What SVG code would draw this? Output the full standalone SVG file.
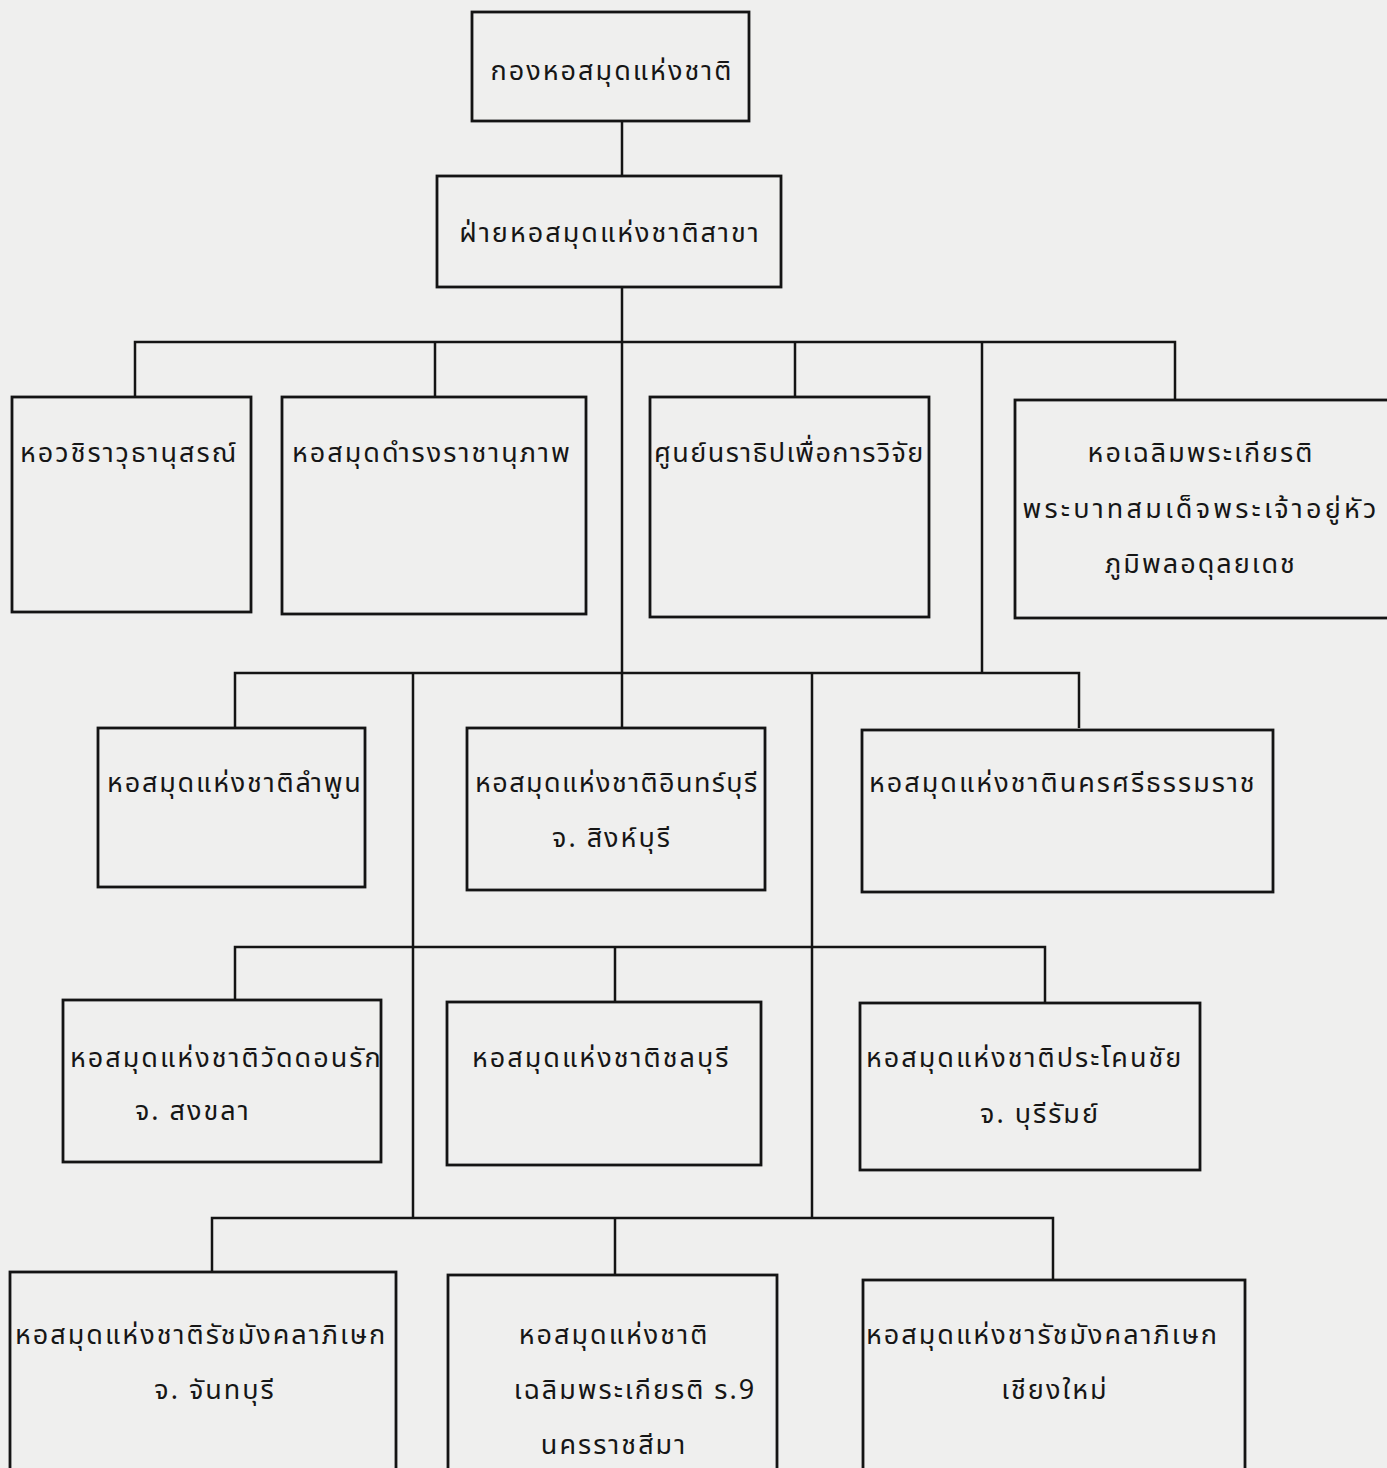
<svg xmlns="http://www.w3.org/2000/svg" width="1387" height="1468" viewBox="0 0 1387 1468">
<style>
  .bg { fill: #efefee; }
  .box { fill: none; stroke: #141414; stroke-width: 2.8; }
  .wire { fill: none; stroke: #141414; stroke-width: 2.5; }
  .t { font-family: "Noto Sans Thai", "Loma", "Garuda", "Norasi", "Noto Sans", "DejaVu Sans", sans-serif; font-size: 27px; fill: #161616; letter-spacing: 2px; }
  .m { text-anchor: middle; }
  .tight { letter-spacing: 1.4px; }
  .wide { letter-spacing: 3.2px; }
</style>
<rect class="bg" x="0" y="0" width="1387" height="1468"/>
<g id="connectors">
  <path class="wire" d="M622 121 V176 M622 287 V728"/>
  <path class="wire" d="M135 397 V342 H1175 V400 M435 342 V397 M795 342 V397 M982 342 V673"/>
  <path class="wire" d="M235 728 V673 H1079 V728 M413 673 V1218 M812 673 V1218"/>
  <path class="wire" d="M235 1000 V947 H1045 V1003 M615 947 V1002"/>
  <path class="wire" d="M212 1272 V1218 H1053 V1280 M615 1218 V1275"/>
</g>
<g id="n1"><rect class="box" x="472" y="12" width="277" height="109"/><text class="t m" x="612" y="80">กองหอสมุดแห่งชาติ</text></g>
<g id="n2"><rect class="box" x="437" y="176" width="344" height="111"/><text class="t m" x="610" y="242">ฝ่ายหอสมุดแห่งชาติสาขา</text></g>
<g id="n3"><rect class="box" x="12" y="397" width="239" height="215"/><text class="t" x="20" y="462">หอวชิราวุธานุสรณ์</text></g>
<g id="n4"><rect class="box" x="282" y="397" width="304" height="217"/><text class="t" x="292" y="462">หอสมุดดำรงราชานุภาพ</text></g>
<g id="n5"><rect class="box" x="650" y="397" width="279" height="220"/><text class="t tight" x="654" y="462">ศูนย์นราธิปเพื่อการวิจัย</text></g>
<g id="n6"><rect class="box" x="1015" y="400" width="380" height="218"/><text class="t m" x="1201" y="462">หอเฉลิมพระเกียรติ</text><text class="t m wide" x="1201" y="518">พระบาทสมเด็จพระเจ้าอยู่หัว</text><text class="t m" x="1201" y="573">ภูมิพลอดุลยเดช</text></g>
<g id="n7"><rect class="box" x="98" y="728" width="267" height="159"/><text class="t" x="107" y="792" style="letter-spacing:1.8px">หอสมุดแห่งชาติลำพูน</text></g>
<g id="n8"><rect class="box" x="467" y="728" width="298" height="162"/><text class="t tight" x="475" y="792">หอสมุดแห่งชาติอินทร์บุรี</text><text class="t m" x="612" y="847">จ. สิงห์บุรี</text></g>
<g id="n9"><rect class="box" x="862" y="730" width="411" height="162"/><text class="t" x="869" y="792">หอสมุดแห่งชาตินครศรีธรรมราช</text></g>
<g id="n10"><rect class="box" x="63" y="1000" width="318" height="162"/><text class="t" x="70" y="1067">หอสมุดแห่งชาติวัดดอนรัก</text><text class="t" x="135" y="1120">จ. สงขลา</text></g>
<g id="n11"><rect class="box" x="447" y="1002" width="314" height="163"/><text class="t" x="472" y="1067">หอสมุดแห่งชาติชลบุรี</text></g>
<g id="n12"><rect class="box" x="860" y="1003" width="340" height="167"/><text class="t" x="866" y="1067">หอสมุดแห่งชาติประโคนชัย</text><text class="t m" x="1040" y="1123">จ. บุรีรัมย์</text></g>
<g id="n13"><rect class="box" x="10" y="1272" width="386" height="210"/><text class="t" x="15" y="1344">หอสมุดแห่งชาติรัชมังคลาภิเษก</text><text class="t m" x="215" y="1399">จ. จันทบุรี</text></g>
<g id="n14"><rect class="box" x="448" y="1275" width="329" height="210"/><text class="t m" x="614" y="1344">หอสมุดแห่งชาติ</text><text class="t m" x="635" y="1399">เฉลิมพระเกียรติ ร.9</text><text class="t m" x="614" y="1454">นครราชสีมา</text></g>
<g id="n15"><rect class="box" x="863" y="1280" width="382" height="205"/><text class="t" x="866" y="1344">หอสมุดแห่งชารัชมังคลาภิเษก</text><text class="t m" x="1055" y="1399">เชียงใหม่</text></g>
</svg>
